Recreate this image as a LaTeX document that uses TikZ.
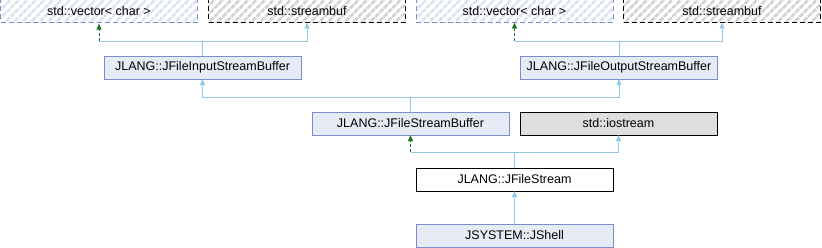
\documentclass[tikz,border=0pt]{standalone}
\usepackage{fontspec}
\setmainfont{Liberation Sans}
\usetikzlibrary{arrows.meta,patterns.meta}

\definecolor{edgeblue}{HTML}{94C6E6}
\definecolor{edgegreen}{HTML}{1E6B1E}
\definecolor{clsborder}{HTML}{7C8FC8}
\definecolor{clsfill}{HTML}{E6EBF5}
\definecolor{hatchblue}{HTML}{DCE2EE}
\definecolor{hatchgray}{HTML}{D2D2D2}
\definecolor{iofill}{HTML}{DEDEDE}

\begin{document}
\begin{tikzpicture}[x=1pt, y=-1pt,
        every node/.style={font=\fontsize{12.5}{15}\selectfont, minimum width=197pt,
            minimum height=23pt, inner sep=0pt},
        cls/.style={draw=clsborder, fill=clsfill},
        extcls/.style={draw=clsborder, dash pattern=on 5pt off 3pt, preaction={fill=white},
            pattern={Lines[angle=45,distance=6pt,line width=2.5pt]}, pattern color=hatchblue},
        stdcls/.style={draw=black, dash pattern=on 5pt off 3pt, preaction={fill=white},
            pattern={Lines[angle=45,distance=6pt,line width=2.5pt]}, pattern color=hatchgray},
        bus/.style={draw=edgeblue},
        pubedge/.style={draw=edgeblue, -{Triangle[length=6pt,width=5pt]}},
        protedge/.style={draw=edgegreen, dash pattern=on 3pt off 2pt, -{Triangle[length=6pt,width=5pt]}}]
    \useasboundingbox (0,0) rectangle (822,248);

    % base classes
    \node[extcls] (vec1) at (99,11) {std::vector< char >};
    \node[stdcls] (sb1) at (307,11) {std::streambuf};
    \node[extcls] (vec2) at (514.5,11) {std::vector< char >};
    \node[stdcls] (sb2) at (722,11) {std::streambuf};

    % buffers
    \node[cls] (in) at (202.5,67.5) {JLANG::JFileInputStreamBuffer};
    \node[cls] (out) at (619,67.5) {JLANG::JFileOutputStreamBuffer};
    \node[cls] (fsb) at (410.5,123.5) {JLANG::JFileStreamBuffer};
    \node[draw=black, fill=iofill] (ios) at (618.5,123.5) {std::iostream};

    % streams
    \node[draw=black, fill=white] (fs) at (514.5,179.5) {JLANG::JFileStream};
    \node[cls] (sh) at (514.5,235.5) {JSYSTEM::JShell};

    % inheritance
    \draw[pubedge] (in.north) -- ++(0,-15) coordinate (inj) -| (sb1.south);
    \draw[bus] (inj) -- (vec1.south |- inj);
    \draw[protedge] (vec1.south |- inj) -- (vec1.south);

    \draw[pubedge] (out.north) -- ++(0,-15) coordinate (outj) -| (sb2.south);
    \draw[bus] (outj) -- (vec2.south |- outj);
    \draw[protedge] (vec2.south |- outj) -- (vec2.south);

    \draw[pubedge] (fsb.north) -- ++(0,-15) -| (in.south);
    \draw[pubedge] (fsb.north) -- ++(0,-15) -| (out.south);

    \draw[pubedge] (fs.north) -- ++(0,-16) coordinate (fsj) -| (ios.south);
    \draw[bus] (fsj) -- (fsb.south |- fsj);
    \draw[protedge] (fsb.south |- fsj) -- (fsb.south);

    \draw[pubedge] (sh.north) -- (fs.south);
\end{tikzpicture}
\end{document}
